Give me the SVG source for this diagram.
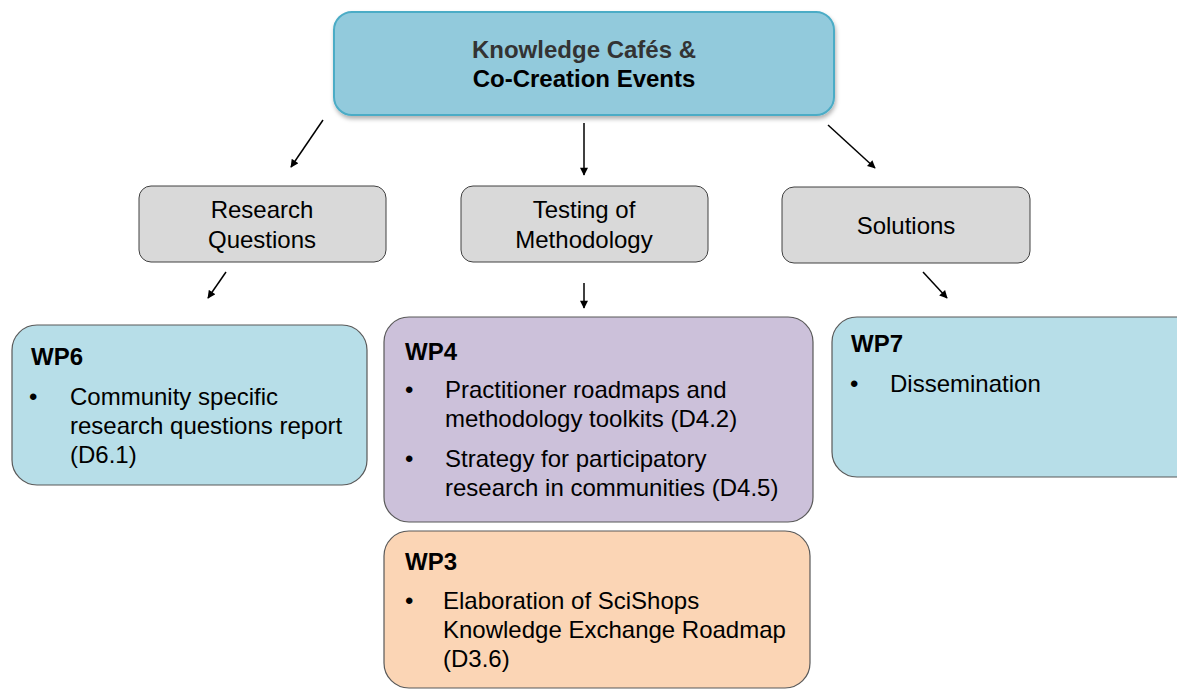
<svg xmlns="http://www.w3.org/2000/svg" width="1177" height="690" viewBox="0 0 1177 690">
<style>
text{font-family:"Liberation Sans",Arial,sans-serif;font-size:24px;fill:#000}
.b{font-weight:bold}
.c{text-anchor:middle}
.gray{fill:#D9D9D9;stroke:#404040;stroke-width:1}
.wp{stroke:#595959;stroke-width:1.2}
.conn line{stroke:#000;stroke-width:1.5;marker-end:url(#ah)}
</style>
<defs>
<marker id="ah" viewBox="0 0 10 10" refX="9" refY="5" markerWidth="9" markerHeight="8" markerUnits="userSpaceOnUse" orient="auto">
<path d="M0,0 L10,5 L0,10 z" fill="#000"/>
</marker>
<filter id="sh" x="-5%" y="-10%" width="110%" height="130%">
<feDropShadow dx="1" dy="3" stdDeviation="2" flood-color="#000" flood-opacity="0.3"/>
</filter>
</defs>
<g id="top">
<rect x="334" y="12" width="500" height="103" rx="18" fill="#92CADC" stroke="#4BACC6" stroke-width="2" filter="url(#sh)"/>
<text class="b c" x="584" y="58" style="fill:#333">Knowledge Cafés &amp;</text>
<text class="b c" x="584" y="87">Co-Creation Events</text>
</g>
<g id="research">
<rect class="gray" x="139" y="186" width="247" height="76" rx="12"/>
<text class="c" x="262" y="218">Research</text>
<text class="c" x="262" y="248">Questions</text>
</g>
<g id="testing">
<rect class="gray" x="461" y="186" width="247" height="76" rx="12"/>
<text class="c" x="584" y="218">Testing of</text>
<text class="c" x="584" y="248">Methodology</text>
</g>
<g id="solutions">
<rect class="gray" x="782" y="187" width="248" height="76" rx="12"/>
<text class="c" x="906" y="234">Solutions</text>
</g>
<g id="wp6">
<rect class="wp" x="12" y="325" width="355" height="160" rx="25" fill="#B7DEE8"/>
<text class="b" x="31" y="365">WP6</text>
<text x="29" y="405">•</text>
<text x="70" y="405">Community specific</text>
<text x="70" y="434">research questions report</text>
<text x="70" y="463">(D6.1)</text>
</g>
<g id="wp4">
<rect class="wp" x="384" y="317" width="429" height="205" rx="25" fill="#CCC1DA"/>
<text class="b" x="405" y="360">WP4</text>
<text x="405" y="398">•</text>
<text x="445" y="398">Practitioner roadmaps and</text>
<text x="445" y="427">methodology toolkits (D4.2)</text>
<text x="405" y="467">•</text>
<text x="445" y="467">Strategy for participatory</text>
<text x="445" y="496">research in communities (D4.5)</text>
</g>
<g id="wp3">
<rect class="wp" x="384" y="531" width="426" height="157" rx="25" fill="#FBD5B5"/>
<text class="b" x="405" y="570">WP3</text>
<text x="405" y="609">•</text>
<text x="443" y="609">Elaboration of SciShops</text>
<text x="443" y="638">Knowledge Exchange Roadmap</text>
<text x="443" y="667">(D3.6)</text>
</g>
<g id="wp7">
<rect class="wp" x="832" y="317" width="370" height="160" rx="25" fill="#B7DEE8"/>
<text class="b" x="851" y="352">WP7</text>
<text x="850" y="392">•</text>
<text x="890" y="392">Dissemination</text>
</g>
<g class="conn" id="connectors">
<line x1="323" y1="120" x2="291" y2="167"/>
<line x1="584" y1="123" x2="584" y2="175"/>
<line x1="828" y1="125" x2="875" y2="168"/>
<line x1="226" y1="272" x2="208" y2="298"/>
<line x1="584" y1="283" x2="584" y2="308"/>
<line x1="923" y1="272" x2="947" y2="298"/>
</g>
</svg>
